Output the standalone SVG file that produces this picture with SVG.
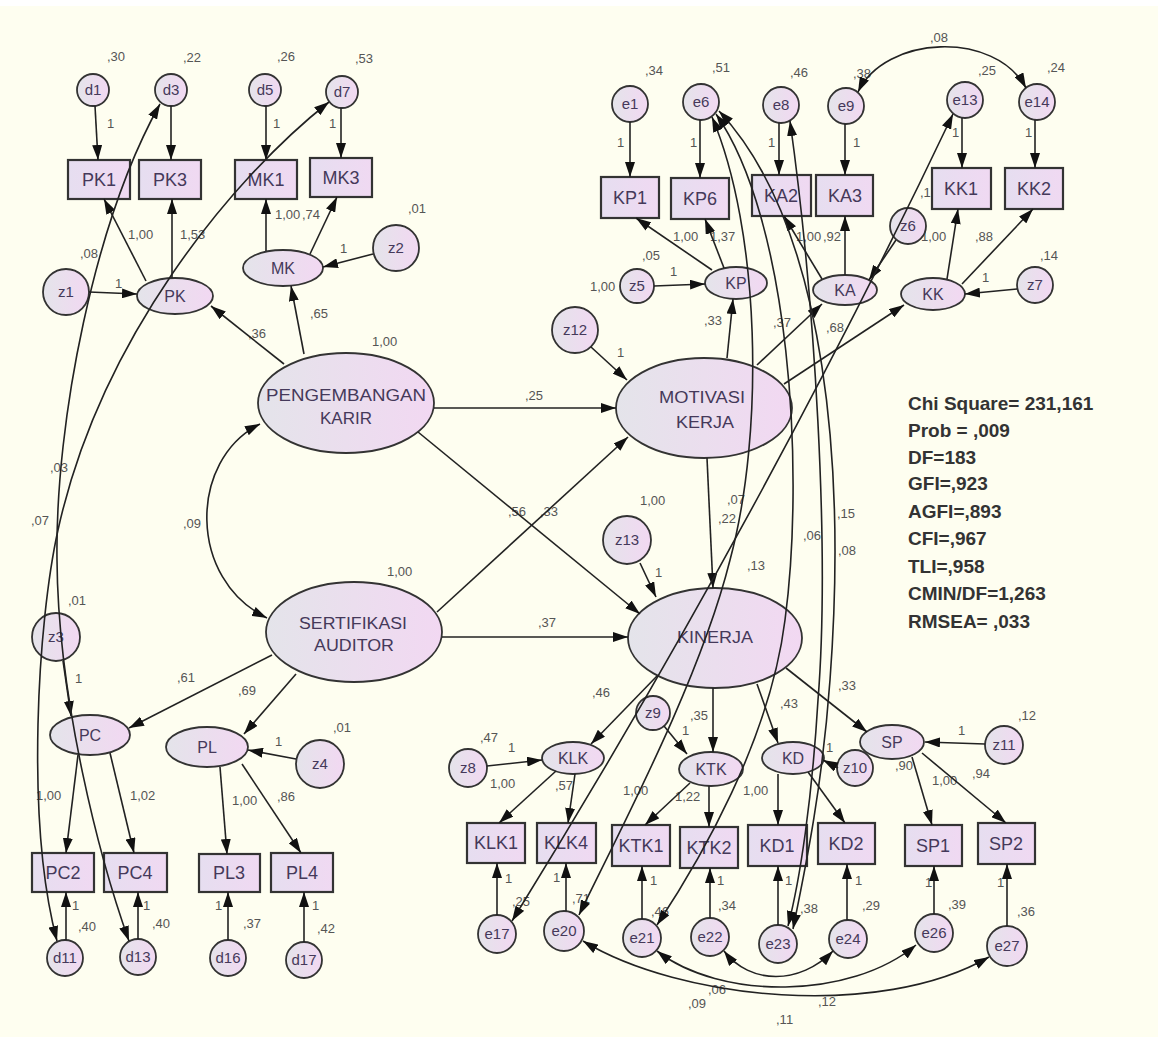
<svg xmlns="http://www.w3.org/2000/svg" width="1158" height="1037" viewBox="0 0 1158 1037">
<defs>
  <linearGradient id="gEll" x1="0" y1="0" x2="1" y2="0">
    <stop offset="0" stop-color="#e4e4ea"/>
    <stop offset="1" stop-color="#f2d8f2"/>
  </linearGradient>
  <linearGradient id="gBox" x1="0" y1="0" x2="1" y2="0">
    <stop offset="0" stop-color="#e6def0"/>
    <stop offset="1" stop-color="#f0d9f2"/>
  </linearGradient>
  <marker id="ah" viewBox="0 0 15 10" refX="15" refY="5" markerWidth="15" markerHeight="10" markerUnits="userSpaceOnUse" orient="auto">
    <path d="M0,0 L15,5 L0,10 z" fill="#111"/>
  </marker>
  <marker id="ah2" viewBox="0 0 15 10" refX="15" refY="5" markerWidth="15" markerHeight="10" markerUnits="userSpaceOnUse" orient="auto-start-reverse">
    <path d="M0,0 L15,5 L0,10 z" fill="#111"/>
  </marker>
  <style>
    .bg { fill: #fefef0; }
    .box { fill: url(#gBox); stroke: #333; stroke-width: 2.2; }
    .ell { fill: url(#gEll); stroke: #333; stroke-width: 1.8; }
    .cir { fill: url(#gEll); stroke: #333; stroke-width: 1.8; }
    .nt { font-family: "Liberation Sans", Arial, sans-serif; fill: #45395a; text-anchor: middle; }
    .bt { font-size: 18px; }
    .ct { font-size: 15px; }
    .et { font-size: 16px; }
    .lt { font-size: 16px; }
    .lb { font-family: "Liberation Sans", Arial, sans-serif; font-size: 13px; fill: #555; }
    .fit { font-family: "Liberation Sans", Arial, sans-serif; font-size: 19px; font-weight: bold; fill: #333; }
    .a { fill: none; stroke: #222; stroke-width: 1.6; marker-end: url(#ah); }
    .c { fill: none; stroke: #222; stroke-width: 1.6; marker-start: url(#ah2); marker-end: url(#ah2); }
  </style>
</defs>

<rect class="bg" x="0" y="0" width="1158" height="1037"/>
<rect x="0" y="0" width="1158" height="6" fill="#ffffff"/>

<!-- estimate labels -->
<g id="labels">
  <!-- variances, top left -->
  <text class="lb" x="107" y="61">,30</text>
  <text class="lb" x="183" y="62">,22</text>
  <text class="lb" x="277" y="61">,26</text>
  <text class="lb" x="355" y="63">,53</text>
  <text class="lb" x="80" y="258">,08</text>
  <text class="lb" x="408" y="213">,01</text>
  <text class="lb" x="107" y="128">1</text>
  <text class="lb" x="273" y="128">1</text>
  <text class="lb" x="329" y="128">1</text>
  <text class="lb" x="128" y="239">1,00</text>
  <text class="lb" x="180" y="239">1,53</text>
  <text class="lb" x="275" y="219">1,00</text>
  <text class="lb" x="302" y="219">,74</text>
  <text class="lb" x="115" y="288">1</text>
  <text class="lb" x="248" y="338">,36</text>
  <text class="lb" x="310" y="318">,65</text>
  <text class="lb" x="340" y="253">1</text>
  <text class="lb" x="372" y="346">1,00</text>
  <text class="lb" x="387" y="576">1,00</text>
  <text class="lb" x="183" y="528">,09</text>
  <text class="lb" x="50" y="472">,03</text>
  <text class="lb" x="31" y="525">,07</text>

  <!-- top right -->
  <text class="lb" x="645" y="75">,34</text>
  <text class="lb" x="712" y="72">,51</text>
  <text class="lb" x="790" y="77">,46</text>
  <text class="lb" x="853" y="78">,38</text>
  <text class="lb" x="978" y="75">,25</text>
  <text class="lb" x="1047" y="72">,24</text>
  <text class="lb" x="930" y="42">,08</text>
  <text class="lb" x="617" y="147">1</text>
  <text class="lb" x="690" y="147">1</text>
  <text class="lb" x="768" y="147">1</text>
  <text class="lb" x="853" y="147">1</text>
  <text class="lb" x="952" y="137">1</text>
  <text class="lb" x="1025" y="137">1</text>
  <text class="lb" x="673" y="241">1,00</text>
  <text class="lb" x="710" y="241">1,37</text>
  <text class="lb" x="796" y="241">1,00</text>
  <text class="lb" x="823" y="241">,92</text>
  <text class="lb" x="921" y="241">1,00</text>
  <text class="lb" x="975" y="241">,88</text>
  <text class="lb" x="920" y="197">,12</text>
  <text class="lb" x="1040" y="260">,14</text>
  <text class="lb" x="982" y="282">1</text>
  <text class="lb" x="642" y="260">,05</text>
  <text class="lb" x="590" y="291">1,00</text>
  <text class="lb" x="670" y="276">1</text>
  <text class="lb" x="704" y="325">,33</text>
  <text class="lb" x="773" y="327">,37</text>
  <text class="lb" x="826" y="332">,68</text>
  <text class="lb" x="617" y="357">1</text>
  <text class="lb" x="525" y="400">,25</text>
  <text class="lb" x="508" y="516">,56</text>
  <text class="lb" x="540" y="516">,33</text>
  <text class="lb" x="538" y="627">,37</text>
  <text class="lb" x="640" y="505">1,00</text>
  <text class="lb" x="727" y="504">,07</text>
  <text class="lb" x="718" y="523">,22</text>
  <text class="lb" x="747" y="570">,13</text>
  <text class="lb" x="803" y="540">,06</text>
  <text class="lb" x="837" y="518">,15</text>
  <text class="lb" x="838" y="555">,08</text>
  <text class="lb" x="655" y="577">1</text>
  <text class="lb" x="838" y="690">,33</text>

  <!-- bottom left -->
  <text class="lb" x="68" y="605">,01</text>
  <text class="lb" x="333" y="732">,01</text>
  <text class="lb" x="177" y="682">,61</text>
  <text class="lb" x="238" y="695">,69</text>
  <text class="lb" x="75" y="683">1</text>
  <text class="lb" x="275" y="746">1</text>
  <text class="lb" x="36" y="800">1,00</text>
  <text class="lb" x="130" y="800">1,02</text>
  <text class="lb" x="232" y="805">1,00</text>
  <text class="lb" x="277" y="801">,86</text>
  <text class="lb" x="72" y="910">1</text>
  <text class="lb" x="143" y="910">1</text>
  <text class="lb" x="215" y="910">1</text>
  <text class="lb" x="312" y="910">1</text>
  <text class="lb" x="78" y="931">,40</text>
  <text class="lb" x="152" y="928">,40</text>
  <text class="lb" x="243" y="928">,37</text>
  <text class="lb" x="317" y="933">,42</text>

  <!-- bottom right -->
  <text class="lb" x="480" y="742">,47</text>
  <text class="lb" x="508" y="752">1</text>
  <text class="lb" x="490" y="788">1,00</text>
  <text class="lb" x="555" y="790">,57</text>
  <text class="lb" x="505" y="883">1</text>
  <text class="lb" x="553" y="882">1</text>
  <text class="lb" x="512" y="906">,25</text>
  <text class="lb" x="572" y="903">,71</text>
  <text class="lb" x="592" y="697">,46</text>
  <text class="lb" x="690" y="720">,35</text>
  <text class="lb" x="682" y="735">1</text>
  <text class="lb" x="780" y="708">,43</text>
  <text class="lb" x="623" y="795">1,00</text>
  <text class="lb" x="675" y="801">1,22</text>
  <text class="lb" x="743" y="795">1,00</text>
  <text class="lb" x="826" y="752">1</text>
  <text class="lb" x="650" y="885">1</text>
  <text class="lb" x="717" y="885">1</text>
  <text class="lb" x="785" y="885">1</text>
  <text class="lb" x="855" y="885">1</text>
  <text class="lb" x="651" y="916">,46</text>
  <text class="lb" x="718" y="910">,34</text>
  <text class="lb" x="800" y="913">,38</text>
  <text class="lb" x="862" y="910">,29</text>
  <text class="lb" x="958" y="735">1</text>
  <text class="lb" x="1018" y="720">,12</text>
  <text class="lb" x="895" y="770">,90</text>
  <text class="lb" x="932" y="785">1,00</text>
  <text class="lb" x="972" y="778">,94</text>
  <text class="lb" x="925" y="887">1</text>
  <text class="lb" x="997" y="887">1</text>
  <text class="lb" x="948" y="909">,39</text>
  <text class="lb" x="1017" y="916">,36</text>
  <text class="lb" x="688" y="1008">,09</text>
  <text class="lb" x="708" y="994">,06</text>
  <text class="lb" x="818" y="1006">,12</text>
  <text class="lb" x="776" y="1024">,11</text>
</g>

<!-- observed indicators -->
<g id="PK1"><rect class="box" x="68" y="160" width="62" height="39"/><text class="nt bt" x="99" y="186">PK1</text></g>
<g id="PK3"><rect class="box" x="139" y="160" width="62" height="39"/><text class="nt bt" x="170" y="186">PK3</text></g>
<g id="MK1"><rect class="box" x="235" y="160" width="62" height="39"/><text class="nt bt" x="266" y="186">MK1</text></g>
<g id="MK3"><rect class="box" x="310" y="158" width="62" height="39"/><text class="nt bt" x="341" y="184">MK3</text></g>
<g id="KP1"><rect class="box" x="601" y="177" width="58" height="41"/><text class="nt bt" x="630" y="204">KP1</text></g>
<g id="KP6"><rect class="box" x="671" y="178" width="58" height="41"/><text class="nt bt" x="700" y="205">KP6</text></g>
<g id="KA2"><rect class="box" x="752" y="175" width="59" height="41"/><text class="nt bt" x="781" y="202">KA2</text></g>
<g id="KA3"><rect class="box" x="816" y="175" width="57" height="41"/><text class="nt bt" x="845" y="202">KA3</text></g>
<g id="KK1"><rect class="box" x="932" y="168" width="59" height="41"/><text class="nt bt" x="961" y="195">KK1</text></g>
<g id="KK2"><rect class="box" x="1005" y="168" width="58" height="41"/><text class="nt bt" x="1034" y="195">KK2</text></g>
<g id="PC2"><rect class="box" x="32" y="853" width="62" height="39"/><text class="nt bt" x="63" y="879">PC2</text></g>
<g id="PC4"><rect class="box" x="104" y="853" width="63" height="39"/><text class="nt bt" x="135" y="879">PC4</text></g>
<g id="PL3"><rect class="box" x="199" y="854" width="61" height="38"/><text class="nt bt" x="229" y="879">PL3</text></g>
<g id="PL4"><rect class="box" x="271" y="853" width="62" height="39"/><text class="nt bt" x="302" y="879">PL4</text></g>
<g id="KLK1"><rect class="box" x="467" y="823" width="58" height="40"/><text class="nt bt" x="496" y="849">KLK1</text></g>
<g id="KLK4"><rect class="box" x="537" y="823" width="59" height="40"/><text class="nt bt" x="566" y="849">KLK4</text></g>
<g id="KTK1"><rect class="box" x="612" y="825" width="58" height="41"/><text class="nt bt" x="641" y="852">KTK1</text></g>
<g id="KTK2"><rect class="box" x="680" y="827" width="58" height="41"/><text class="nt bt" x="709" y="854">KTK2</text></g>
<g id="KD1"><rect class="box" x="748" y="825" width="59" height="41"/><text class="nt bt" x="777" y="852">KD1</text></g>
<g id="KD2"><rect class="box" x="818" y="823" width="57" height="41"/><text class="nt bt" x="846" y="850">KD2</text></g>
<g id="SP1"><rect class="box" x="905" y="825" width="57" height="41"/><text class="nt bt" x="933" y="852">SP1</text></g>
<g id="SP2"><rect class="box" x="978" y="823" width="57" height="41"/><text class="nt bt" x="1006" y="850">SP2</text></g>

<!-- error and disturbance terms -->
<g id="d1"><circle class="cir" cx="93" cy="90" r="16"/><text class="nt ct" x="93" y="95">d1</text></g>
<g id="d3"><circle class="cir" cx="171" cy="90" r="16"/><text class="nt ct" x="171" y="95">d3</text></g>
<g id="d5"><circle class="cir" cx="265" cy="90" r="16"/><text class="nt ct" x="265" y="95">d5</text></g>
<g id="d7"><circle class="cir" cx="342" cy="92" r="16"/><text class="nt ct" x="342" y="97">d7</text></g>
<g id="e1"><circle class="cir" cx="630" cy="104" r="18"/><text class="nt ct" x="630" y="109">e1</text></g>
<g id="e6"><circle class="cir" cx="701" cy="102" r="18"/><text class="nt ct" x="701" y="107">e6</text></g>
<g id="e8"><circle class="cir" cx="781" cy="105" r="18"/><text class="nt ct" x="781" y="110">e8</text></g>
<g id="e9"><circle class="cir" cx="846" cy="106" r="18"/><text class="nt ct" x="846" y="111">e9</text></g>
<g id="e13"><circle class="cir" cx="965" cy="100" r="18"/><text class="nt ct" x="965" y="105">e13</text></g>
<g id="e14"><circle class="cir" cx="1037" cy="102" r="18"/><text class="nt ct" x="1037" y="107">e14</text></g>
<g id="z1"><circle class="cir" cx="66" cy="292" r="23"/><text class="nt ct" x="66" y="297">z1</text></g>
<g id="z2"><circle class="cir" cx="396" cy="248" r="23"/><text class="nt ct" x="396" y="253">z2</text></g>
<g id="z5"><circle class="cir" cx="637" cy="286" r="17"/><text class="nt ct" x="637" y="291">z5</text></g>
<g id="z6"><circle class="cir" cx="908" cy="226" r="18"/><text class="nt ct" x="908" y="231">z6</text></g>
<g id="z7"><circle class="cir" cx="1035" cy="285" r="18"/><text class="nt ct" x="1035" y="290">z7</text></g>
<g id="z12"><circle class="cir" cx="575" cy="330" r="23"/><text class="nt ct" x="575" y="335">z12</text></g>
<g id="z13"><circle class="cir" cx="627" cy="540" r="24"/><text class="nt ct" x="627" y="545">z13</text></g>
<g id="z3"><circle class="cir" cx="56" cy="637" r="24"/><text class="nt ct" x="56" y="642">z3</text></g>
<g id="z4"><circle class="cir" cx="320" cy="764" r="24"/><text class="nt ct" x="320" y="769">z4</text></g>
<g id="z8"><circle class="cir" cx="468" cy="768" r="19"/><text class="nt ct" x="468" y="773">z8</text></g>
<g id="z9"><circle class="cir" cx="653" cy="713" r="17"/><text class="nt ct" x="653" y="718">z9</text></g>
<g id="z10"><circle class="cir" cx="855" cy="768" r="18"/><text class="nt ct" x="855" y="773">z10</text></g>
<g id="z11"><circle class="cir" cx="1004" cy="745" r="19"/><text class="nt ct" x="1004" y="750">z11</text></g>
<g id="d11"><circle class="cir" cx="65" cy="958" r="18"/><text class="nt ct" x="65" y="963">d11</text></g>
<g id="d13"><circle class="cir" cx="138" cy="957" r="18"/><text class="nt ct" x="138" y="962">d13</text></g>
<g id="d16"><circle class="cir" cx="228" cy="958" r="18"/><text class="nt ct" x="228" y="963">d16</text></g>
<g id="d17"><circle class="cir" cx="304" cy="960" r="18"/><text class="nt ct" x="304" y="965">d17</text></g>
<g id="e17"><circle class="cir" cx="497" cy="934" r="19"/><text class="nt ct" x="497" y="939">e17</text></g>
<g id="e20"><circle class="cir" cx="564" cy="931" r="20"/><text class="nt ct" x="564" y="936">e20</text></g>
<g id="e21"><circle class="cir" cx="642" cy="938" r="19"/><text class="nt ct" x="642" y="943">e21</text></g>
<g id="e22"><circle class="cir" cx="710" cy="937" r="19"/><text class="nt ct" x="710" y="942">e22</text></g>
<g id="e23"><circle class="cir" cx="778" cy="944" r="19"/><text class="nt ct" x="778" y="949">e23</text></g>
<g id="e24"><circle class="cir" cx="848" cy="939" r="19"/><text class="nt ct" x="848" y="944">e24</text></g>
<g id="e26"><circle class="cir" cx="934" cy="933" r="19"/><text class="nt ct" x="934" y="938">e26</text></g>
<g id="e27"><circle class="cir" cx="1007" cy="946" r="20"/><text class="nt ct" x="1007" y="951">e27</text></g>

<!-- first-order latent variables -->
<g id="PK"><ellipse class="ell" cx="175" cy="296" rx="38" ry="18"/><text class="nt et" x="175" y="302">PK</text></g>
<g id="MK"><ellipse class="ell" cx="283" cy="268" rx="40" ry="18"/><text class="nt et" x="283" y="274">MK</text></g>
<g id="KP"><ellipse class="ell" cx="736" cy="283" rx="31" ry="16"/><text class="nt et" x="736" y="289">KP</text></g>
<g id="KA"><ellipse class="ell" cx="845" cy="290" rx="32" ry="15"/><text class="nt et" x="845" y="296">KA</text></g>
<g id="KK"><ellipse class="ell" cx="933" cy="294" rx="32" ry="16"/><text class="nt et" x="933" y="300">KK</text></g>
<g id="PC"><ellipse class="ell" cx="90" cy="735" rx="40" ry="20"/><text class="nt et" x="90" y="741">PC</text></g>
<g id="PL"><ellipse class="ell" cx="207" cy="747" rx="41" ry="20"/><text class="nt et" x="207" y="753">PL</text></g>
<g id="KLK"><ellipse class="ell" cx="573" cy="758" rx="31" ry="16"/><text class="nt et" x="573" y="764">KLK</text></g>
<g id="KTK"><ellipse class="ell" cx="711" cy="769" rx="32" ry="17"/><text class="nt et" x="711" y="775">KTK</text></g>
<g id="KD"><ellipse class="ell" cx="793" cy="758" rx="31" ry="16"/><text class="nt et" x="793" y="764">KD</text></g>
<g id="SP"><ellipse class="ell" cx="892" cy="742" rx="32" ry="17"/><text class="nt et" x="892" y="748">SP</text></g>

<!-- main constructs -->
<g id="PENGEMBANGAN_KARIR"><ellipse class="ell" cx="346" cy="403" rx="88" ry="50"/>
  <text class="nt lt" x="346" y="401" textLength="160" lengthAdjust="spacingAndGlyphs">PENGEMBANGAN</text>
  <text class="nt lt" x="346" y="424" textLength="52" lengthAdjust="spacingAndGlyphs">KARIR</text></g>
<g id="SERTIFIKASI_AUDITOR"><ellipse class="ell" cx="354" cy="632" rx="88" ry="50"/>
  <text class="nt lt" x="353" y="629" textLength="108" lengthAdjust="spacingAndGlyphs">SERTIFIKASI</text>
  <text class="nt lt" x="354" y="651" textLength="80" lengthAdjust="spacingAndGlyphs">AUDITOR</text></g>
<g id="MOTIVASI_KERJA"><ellipse class="ell" cx="704" cy="408" rx="88" ry="50"/>
  <text class="nt lt" x="702" y="403" textLength="86" lengthAdjust="spacingAndGlyphs">MOTIVASI</text>
  <text class="nt lt" x="705" y="428" textLength="58" lengthAdjust="spacingAndGlyphs">KERJA</text></g>
<g id="KINERJA"><ellipse class="ell" cx="715" cy="638" rx="87" ry="50"/>
  <text class="nt lt" x="715" y="643" textLength="76" lengthAdjust="spacingAndGlyphs">KINERJA</text></g>

<!-- model fit summary -->
<g id="fit">
  <text class="fit" x="908" y="410">Chi Square= 231,161</text>
  <text class="fit" x="908" y="437">Prob = ,009</text>
  <text class="fit" x="908" y="464">DF=183</text>
  <text class="fit" x="908" y="490">GFI=,923</text>
  <text class="fit" x="908" y="518">AGFI=,893</text>
  <text class="fit" x="908" y="545">CFI=,967</text>
  <text class="fit" x="908" y="573">TLI=,958</text>
  <text class="fit" x="908" y="600">CMIN/DF=1,263</text>
  <text class="fit" x="908" y="628">RMSEA= ,033</text>
</g>

<!-- paths and covariances -->
<g id="connectors">
  <path class="a" d="M95,106 L98,160"/>
  <path class="a" d="M171,106 L171,160"/>
  <path class="a" d="M266,106 L266,160"/>
  <path class="a" d="M341,108 L341,158"/>
  <path class="a" d="M630,122 L630,177"/>
  <path class="a" d="M700,120 L700,178"/>
  <path class="a" d="M779,123 L779,175"/>
  <path class="a" d="M845,124 L845,175"/>
  <path class="a" d="M962,118 L962,168"/>
  <path class="a" d="M1035,120 L1035,168"/>
  <path class="a" d="M146,281 L104,199"/>
  <path class="a" d="M172,278 L172,199"/>
  <path class="a" d="M266,251 L266,199"/>
  <path class="a" d="M310,254 L337,197"/>
  <path class="a" d="M89,292 L137,294"/>
  <path class="a" d="M373,254 L323,267"/>
  <path class="a" d="M284,364 L211,306"/>
  <path class="a" d="M304,354 L291,286"/>
  <path class="a" d="M712,270 L636,218"/>
  <path class="a" d="M724,268 L705,219"/>
  <path class="a" d="M822,279 L784,216"/>
  <path class="a" d="M845,275 L845,216"/>
  <path class="a" d="M947,279 L958,209"/>
  <path class="a" d="M962,284 L1033,209"/>
  <path class="a" d="M654,286 L705,284"/>
  <path class="a" d="M1017,289 L965,294"/>
  <path class="a" d="M896,240 L869,280"/>
  <path class="a" d="M727,358 L733,299"/>
  <path class="a" d="M757,365 L822,304"/>
  <path class="a" d="M784,384 L904,305"/>
  <path class="a" d="M591,347 L627,380"/>
  <path class="a" d="M434,408 L616,408"/>
  <path class="a" d="M437,612 L628,437"/>
  <path class="a" d="M418,432 L640,614"/>
  <path class="a" d="M442,637 L628,637"/>
  <path class="a" d="M707,458 L713,588"/>
  <path class="a" d="M640,563 L656,597"/>
  <path class="a" d="M272,655 L129,728"/>
  <path class="a" d="M296,674 L244,734"/>
  <path class="a" d="M63,661 L71,716"/>
  <path class="a" d="M296,759 L248,750"/>
  <path class="a" d="M78,755 L66,853"/>
  <path class="a" d="M110,753 L134,853"/>
  <path class="a" d="M220,767 L227,854"/>
  <path class="a" d="M242,764 L301,853"/>
  <path class="a" d="M657,676 L591,744"/>
  <path class="a" d="M713,688 L713,752"/>
  <path class="a" d="M757,684 L778,743"/>
  <path class="a" d="M786,668 L867,732"/>
  <path class="a" d="M664,726 L687,754"/>
  <path class="a" d="M487,766 L542,760"/>
  <path class="a" d="M838,768 L823,760"/>
  <path class="a" d="M985,744 L925,742"/>
  <path class="a" d="M556,771 L499,823"/>
  <path class="a" d="M575,774 L568,823"/>
  <path class="a" d="M690,783 L645,825"/>
  <path class="a" d="M709,786 L709,827"/>
  <path class="a" d="M778,774 L778,825"/>
  <path class="a" d="M808,772 L845,823"/>
  <path class="a" d="M912,757 L932,825"/>
  <path class="a" d="M922,753 L1006,823"/>
  <path class="a" d="M66,940 L66,892"/>
  <path class="a" d="M138,939 L138,892"/>
  <path class="a" d="M228,940 L228,892"/>
  <path class="a" d="M304,942 L304,892"/>
  <path class="a" d="M497,915 L497,863"/>
  <path class="a" d="M566,911 L566,863"/>
  <path class="a" d="M642,919 L642,866"/>
  <path class="a" d="M710,918 L710,868"/>
  <path class="a" d="M778,925 L778,866"/>
  <path class="a" d="M847,920 L847,864"/>
  <path class="a" d="M934,914 L934,866"/>
  <path class="a" d="M1007,926 L1007,864"/>

  <path class="c" d="M260,424 C188,460 188,580 267,618"/>
  <path class="c" d="M858,92 C885,35 995,30 1026,88"/>
  <path class="c" d="M160,104 C95,220 55,420 57,560 C58,700 100,860 129,941"/>
  <path class="c" d="M329,102 C230,180 100,340 58,530 C38,620 25,820 57,941"/>
  <path class="c" d="M712,117 C760,230 765,430 730,560 C700,680 620,830 579,915"/>
  <path class="c" d="M953,114 Q760,520 512,921"/>
  <path class="c" d="M716,114 C790,220 805,470 785,620 C770,740 700,860 657,925"/>
  <path class="c" d="M719,111 C830,230 845,480 830,680 C822,790 805,870 793,929"/>
  <path class="c" d="M790,121 C815,300 830,550 818,700 C812,800 800,880 788,926"/>
  <path class="c" d="M583,941 C680,1000 880,1020 989,957"/>
  <path class="c" d="M657,951 C720,1000 850,1000 916,945"/>
  <path class="c" d="M724,951 C750,985 800,985 833,951"/>
</g>
</svg>
